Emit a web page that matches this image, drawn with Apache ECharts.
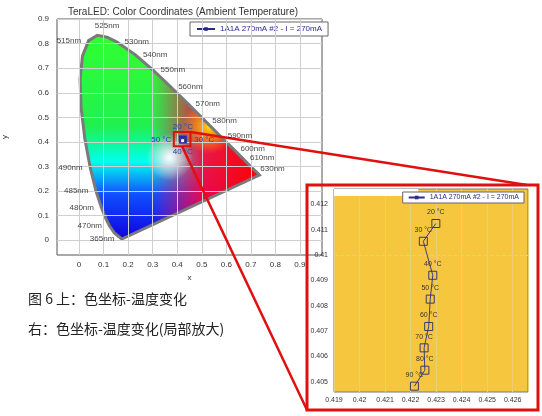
<!DOCTYPE html>
<html><head><meta charset="utf-8">
<script src="https://cdn.jsdelivr.net/npm/echarts@6/dist/echarts.min.js"></script>
<style>html,body{margin:0;background:#fff}#c{width:542px;height:416px}</style>
</head><body><div id="c"></div>
<script>
// CIE 1931 spectral locus
var locusX = [0.1741,0.1440,0.1241,0.1096,0.0913,0.0687,0.0454,0.0235,0.0082,0.0039,0.0139,0.0389,0.0743,0.1142,0.1547,0.2296,0.3016,0.3731,0.4441,0.5125,0.5752,0.6270,0.6658,0.6915,0.7079,0.7260,0.7347];
var locusY = [0.0050,0.0297,0.0578,0.0868,0.1327,0.2007,0.2950,0.4127,0.5384,0.6548,0.7502,0.8120,0.8338,0.8262,0.8059,0.7543,0.6923,0.6245,0.5547,0.4866,0.4242,0.3725,0.3340,0.3083,0.2920,0.2740,0.2653];
// wavelength labels
var waveNames = ['365nm','470nm','480nm','485nm','490nm','515nm','525nm','530nm','540nm','550nm','560nm','570nm','580nm','590nm','600nm','610nm','630nm'];
var waveX = [0.1741,0.1241,0.0913,0.0687,0.0454,0.0389,0.1142,0.1547,0.2296,0.3016,0.3731,0.4441,0.5125,0.5752,0.6270,0.6658,0.7079];
var waveY = [0.0050,0.0578,0.1327,0.2007,0.2950,0.8120,0.8262,0.8059,0.7543,0.6923,0.6245,0.5547,0.4866,0.4242,0.3725,0.3340,0.2920];
var wavePos = ['left','left','left','left','left','left','top','right','right','right','right','right','right','right','right','right','right'];
// measured chromaticity vs temperature
var temps = ['20 °C','30 °C','40 °C','50 °C','60 °C','70 °C','80 °C','90 °C'];
var cieX = [0.42299,0.42250,0.42287,0.42277,0.42271,0.42253,0.42256,0.42215];
var cieY = [0.41124,0.41054,0.40920,0.40826,0.40718,0.40634,0.40546,0.40483];
var mainLabelPos = ['top','right','bottom','left'];
var mainTicks = [0,0.1,0.2,0.3,0.4,0.5,0.6,0.7,0.8,0.9];
var zoomYTicks = [0.405,0.406,0.407,0.408,0.409,0.41,0.411,0.412];
var seriesName = '1A1A 270mA #2 - I = 270mA';

var chart = echarts.init(document.getElementById('c'));
var font = 'Arial, "Liberation Sans", sans-serif';
var cjk = '"Noto Sans CJK SC", sans-serif';
function onTenth(v){ return Math.abs(v*10-Math.round(v*10))<1e-6 && v>=-1e-9 && v<0.95; }
function onMilli(v){ return Math.abs(v*1000-Math.round(v*1000))<1e-6; }
var gridLine = {silent:true, symbol:'none', label:{show:false}, lineStyle:{color:'#cfcfcf', type:'solid', width:1}};

var option = {
  animation:false,
  title:{text:'TeraLED: Color Coordinates (Ambient Temperature)', left:178, top:2, textAlign:'center',
    textStyle:{fontSize:10, fontWeight:'normal', color:'#333', fontFamily:font}},
  legend:[
    {data:[seriesName], left:190, top:22, itemWidth:18, itemHeight:2, padding:[3,6], borderColor:'#666', borderWidth:1,
      backgroundColor:'#fff', textStyle:{fontSize:8, color:'#2a2a8a', fontFamily:font}},
    {data:[seriesName], right:18, top:192, itemWidth:16, itemHeight:2, padding:[2,5], borderColor:'#666', borderWidth:1,
      backgroundColor:'#fff', textStyle:{fontSize:7, color:'#2a2a8a', fontFamily:font}}
  ],
  grid:[
    {left:57, top:19, width:265, height:236, show:true, borderColor:'#555', borderWidth:1, backgroundColor:'#fff'},
    {left:334, top:189, width:194, height:203, show:true, borderColor:'#777', borderWidth:1, backgroundColor:'#F6C73E'}
  ],
  xAxis:[
    {gridIndex:0, type:'value', min:-0.09, max:0.99, interval:0.01, name:'x', nameLocation:'middle', nameGap:15,
      nameTextStyle:{fontSize:8, color:'#333'}, axisLine:{show:false}, axisTick:{show:false}, splitLine:{show:false},
      axisLabel:{fontSize:8, color:'#333', margin:6, formatter:function(v){return onTenth(v)?(+v.toFixed(1))+'':'';}}},
    {gridIndex:1, type:'value', min:0.419, max:0.4266, interval:0.001, axisLine:{show:false}, axisTick:{show:false},
      splitLine:{show:true, lineStyle:{color:'#e9cf7a'}},
      axisLabel:{fontSize:7, color:'#333', margin:5, showMaxLabel:false, formatter:function(v){return (+v.toFixed(3))+'';}}}
  ],
  yAxis:[
    {gridIndex:0, type:'value', min:-0.06, max:0.9, interval:0.02, name:'y', nameLocation:'middle', nameGap:48, nameRotate:90,
      nameTextStyle:{fontSize:8, color:'#333'}, axisLine:{show:false}, axisTick:{show:false}, splitLine:{show:false},
      axisLabel:{fontSize:8, color:'#333', margin:8, formatter:function(v){return onTenth(v)?(+v.toFixed(1))+'':'';}}},
    {gridIndex:1, type:'value', min:0.4046, max:0.4126, interval:0.0002, axisLine:{show:false}, axisTick:{show:false},
      splitLine:{show:false},
      axisLabel:{fontSize:7, color:'#333', margin:6, formatter:function(v){return onMilli(v)?(+v.toFixed(3))+'':'';}}}
  ],
  series:[
    {type:'line', xAxisIndex:0, yAxisIndex:0, data:[], silent:true, z:1,
      markLine:Object.assign({data:mainTicks.map(function(t){return {xAxis:t};}).concat(mainTicks.map(function(t){return {yAxis:t};}))}, gridLine)},
    {type:'line', xAxisIndex:1, yAxisIndex:1, data:[], silent:true,
      markLine:Object.assign({data:zoomYTicks.map(function(t){return {yAxis:t};})}, gridLine, {lineStyle:{color:'#e9cf7a', width:1}})},
    {type:'custom', xAxisIndex:0, yAxisIndex:0, silent:true, data:[[0,0]], z:2,
      renderItem:function(params, api){
        var pts = locusX.map(function(x,i){return api.coord([x, locusY[i]]);});
        return {type:'group', children:[
          {type:'polygon', shape:{points:pts}, style:{fill:new echarts.graphic.LinearGradient(0,0,0,1,[
            {offset:0,color:'#30ff30'},{offset:0.45,color:'#20f050'},{offset:0.62,color:'#00ffee'},{offset:0.78,color:'#1050ff'},{offset:1,color:'#1000e0'}])}},
          {type:'polygon', shape:{points:pts}, style:{fill:new echarts.graphic.LinearGradient(0,0,1,0,[
            {offset:0,color:'rgba(255,0,90,0)'},{offset:0.4,color:'rgba(255,0,90,0)'},{offset:0.68,color:'rgba(255,0,60,0.9)'},{offset:1,color:'rgba(255,0,0,1)'}])}},
          {type:'polygon', shape:{points:pts}, style:{fill:new echarts.graphic.RadialGradient(0.72,0.45,0.15,[
            {offset:0,color:'rgba(255,230,0,0.95)'},{offset:1,color:'rgba(255,200,0,0)'}])}},
          {type:'polygon', shape:{points:pts}, style:{fill:new echarts.graphic.RadialGradient(0.5,0.6,0.13,[
            {offset:0,color:'rgba(255,255,255,1)'},{offset:1,color:'rgba(255,255,255,0)'}])}},
          {type:'polygon', shape:{points:pts}, style:{fill:'none', stroke:'#7a7a7a', lineWidth:3}}
        ]};
      }},
    {type:'scatter', xAxisIndex:0, yAxisIndex:0, symbol:'circle', symbolSize:1, silent:true, z:20,
      itemStyle:{color:'#555'},
      data:waveNames.map(function(n,i){return {value:[waveX[i],waveY[i]], name:n,
        label:{show:true, position:wavePos[i], distance:7, formatter:n, fontSize:8, color:'#111', fontFamily:font}};})},
    {type:'line', name:seriesName, xAxisIndex:0, yAxisIndex:0, z:21, symbol:'rect', symbolSize:4,
      lineStyle:{color:'#2a2a8a', width:1}, itemStyle:{color:'#fff', borderColor:'#2a2a8a', borderWidth:1},
      data:cieX.map(function(x,i){return {value:[x,cieY[i]], label:i<4?{show:true, position:mainLabelPos[i], distance:i==1||i==3?9:6,
        formatter:temps[i], fontSize:8, color:'#2040c0', fontFamily:font}:{show:false}};})},
    {type:'line', name:seriesName, xAxisIndex:1, yAxisIndex:1, z:5, symbol:'rect', symbolSize:8,
      lineStyle:{color:'#3a3a8a', width:1}, itemStyle:{color:'rgba(0,0,0,0)', borderColor:'#3a3a6a', borderWidth:1},
      label:{show:true, position:'top', distance:3, fontSize:7, color:'#333', fontFamily:font,
        formatter:function(p){return temps[p.dataIndex];}},
      data:cieX.map(function(x,i){return [x,cieY[i]];})}
  ]
};
chart.setOption(option);

function px(g, v){ return chart.convertToPixel({gridIndex:g}, v); }
function boxFrom(g, a, b){ var p = px(g,a), q = px(g,b);
  return {x:Math.min(p[0],q[0]), y:Math.min(p[1],q[1]), width:Math.abs(q[0]-p[0]), height:Math.abs(q[1]-p[1])}; }
var pTop = px(0, [0.454,0.44]);
var pBot = px(0, [0.42,0.382]);
chart.setOption({graphic:[
  {type:'rect', shape:boxFrom(1,[0.419,0.4126],[0.4223,0.41232]), style:{fill:'#ffffff'}, z:2},
  {type:'rect', shape:boxFrom(0,[0.386,0.382],[0.454,0.44]), style:{fill:'none', stroke:'#e01010', lineWidth:2}, z:10},
  {type:'rect', shape:boxFrom(0,[0.41,0.397],[0.436,0.423]), style:{fill:'none', stroke:'#1a2acc', lineWidth:1.5}, z:10},
  {type:'rect', shape:{x:307, y:185, width:231, height:225}, style:{fill:'none', stroke:'#e01010', lineWidth:3}, z:10},
  {type:'text', left:28, top:292, style:{text:'图 6 上：色坐标-温度变化', fontSize:14, fill:'#222', fontFamily:cjk}},
  {type:'text', left:28, top:322, style:{text:'右：色坐标-温度变化(局部放大)', fontSize:14, fill:'#222', fontFamily:cjk}},
  {type:'line', shape:{x1:pTop[0], y1:pTop[1], x2:527, y2:185}, style:{stroke:'#e01010', lineWidth:2.5}, z:10},
  {type:'line', shape:{x1:pBot[0], y1:pBot[1], x2:307, y2:410}, style:{stroke:'#e01010', lineWidth:2.5}, z:10}
]});
</script></body></html>
